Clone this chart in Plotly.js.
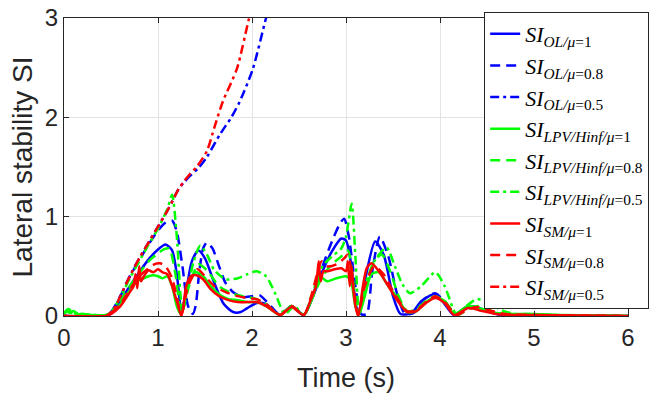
<!DOCTYPE html>
<html>
<head>
<meta charset="utf-8">
<script src="https://cdn.plot.ly/plotly-3.0.1.min.js"></script>
<style>html,body{margin:0;padding:0;background:#fff;}#chart{width:665px;height:405px;}</style>
</head>
<body>
<div id="chart"></div>
<script>
// ---- data ----
const xTicks = [0, 1, 2, 3, 4, 5, 6];
const yTicks = [0, 1, 2, 3];

const t_OL1 = [0,0.3,0.5,0.6,0.7,0.8,0.9,1.0,1.08,1.15,1.2,1.25,1.3,1.36,1.43,1.5,1.6,1.7,1.8,1.88,1.95,2.05,2.15,2.3,2.42,2.55,2.65,2.75,2.85,2.95,3.0,3.05,3.1,3.13,3.2,3.31,3.4,3.5,3.58,3.7,3.8,3.95,4.05,4.15,4.3,4.45,4.6,4.8,5.0,5.5,6.0];
const y_OL1 = [0,0,0.02,0.15,0.3,0.44,0.57,0.67,0.72,0.66,0.42,0.05,0.25,0.55,0.66,0.58,0.33,0.12,0.04,0.04,0.08,0.13,0.12,0.01,0.1,0.01,0.2,0.45,0.65,0.78,0.76,0.55,0.15,0.02,0.35,0.75,0.62,0.2,0.02,0.03,0.15,0.22,0.12,0.01,0.1,0.07,0.02,0.01,0.01,0,0];

const t_OL08 = [0,0.45,0.5,0.6,0.7,0.8,0.9,1.0,1.08,1.15,1.2,1.26,1.32,1.37,1.4,1.44,1.48,1.52,1.58,1.65,1.72,1.8,1.9,2.0,2.08,2.18,2.3,2.42,2.55,2.65,2.75,2.85,2.93,2.98,3.03,3.1,3.16,3.22,3.28,3.36,3.45,3.55,3.63,3.72,3.82,3.95,4.05,4.15,4.3,4.45,4.6,4.8,5.0,6.0];
const y_OL08 = [0,0,0.04,0.2,0.4,0.56,0.72,0.86,0.94,0.96,0.85,0.5,0.1,0.02,0.1,0.45,0.68,0.74,0.68,0.5,0.33,0.24,0.19,0.2,0.21,0.12,0.01,0.1,0.01,0.22,0.5,0.75,0.92,0.98,0.8,0.3,0.02,0.02,0.45,0.8,0.6,0.2,0.02,0.03,0.16,0.23,0.14,0.01,0.1,0.07,0.02,0.01,0.01,0];

const t_OL05 = [0,0.45,0.5,0.55,0.6,0.7,0.8,0.9,1.0,1.1,1.16,1.22,1.28,1.34,1.43,1.52,1.66,1.78,1.87,2.01,2.15,2.25];
const y_OL05 = [0,0,0.04,0.1,0.2,0.4,0.58,0.74,0.9,1.06,1.17,1.28,1.35,1.41,1.49,1.6,1.83,2.0,2.16,2.49,3.0,3.3];

const t_LPV1 = [0,0.03,0.06,0.1,0.15,0.2,0.3,0.45,0.5,0.6,0.7,0.78,0.85,0.9,0.95,1.0,1.05,1.1,1.15,1.2,1.24,1.28,1.33,1.4,1.48,1.56,1.65,1.75,1.85,1.95,2.05,2.15,2.3,2.42,2.55,2.65,2.72,2.8,2.9,3.0,3.05,3.1,3.14,3.2,3.27,3.35,3.45,3.55,3.65,3.75,3.85,3.95,4.05,4.15,4.3,4.45,4.6,4.8,5.0,5.3,6.0];
const y_LPV1 = [0.02,0.06,0.03,0.05,0.02,0.02,0.01,0.01,0.03,0.12,0.26,0.35,0.38,0.40,0.41,0.40,0.38,0.40,0.3,0.1,0.02,0.15,0.35,0.44,0.4,0.3,0.22,0.17,0.16,0.14,0.14,0.1,0.01,0.1,0.01,0.2,0.4,0.35,0.38,0.40,0.36,0.1,0.02,0.2,0.42,0.44,0.3,0.18,0.04,0.05,0.14,0.19,0.15,0.02,0.1,0.07,0.03,0.02,0.02,0.01,0];

const t_LPV08 = [0,0.05,0.1,0.2,0.45,0.5,0.6,0.7,0.8,0.9,1.0,1.06,1.12,1.18,1.25,1.33,1.43,1.52,1.65,1.78,1.9,2.05,2.15,2.3,2.42,2.55,2.65,2.75,2.85,2.95,3.02,3.07,3.13,3.2,3.3,3.38,3.47,3.56,3.65,3.75,3.85,3.95,4.05,4.18,4.3,4.4,4.55,4.7,5.0,6.0];
const y_LPV08 = [0.02,0.05,0.02,0.01,0.01,0.03,0.15,0.3,0.43,0.55,0.63,0.67,0.68,0.45,0.03,0.3,0.52,0.46,0.3,0.23,0.2,0.17,0.12,0.01,0.1,0.01,0.2,0.4,0.52,0.6,0.66,0.4,0.01,0.25,0.55,0.62,0.45,0.2,0.05,0.07,0.15,0.2,0.15,0.01,0.07,0.1,0.05,0.02,0.01,0];

const t_LPV05 = [0,0.05,0.1,0.2,0.45,0.5,0.6,0.7,0.8,0.9,1.0,1.1,1.15,1.2,1.26,1.32,1.38,1.45,1.52,1.6,1.72,1.85,1.95,2.05,2.15,2.25,2.35,2.45,2.55,2.65,2.75,2.85,2.95,3.0,3.06,3.1,3.14,3.2,3.3,3.43,3.52,3.6,3.68,3.8,3.95,4.05,4.18,4.28,4.39,4.5,4.65,4.8,4.95,5.2,6.0];
const y_LPV05 = [0.03,0.07,0.03,0.02,0.01,0.04,0.19,0.38,0.55,0.72,0.88,1.08,1.22,0.8,0.05,0.3,0.55,0.71,0.62,0.46,0.37,0.38,0.42,0.45,0.4,0.22,0.02,0.1,0.01,0.25,0.5,0.6,0.68,0.8,1.13,0.6,0.02,0.3,0.55,0.69,0.5,0.32,0.23,0.3,0.44,0.3,0.01,0.1,0.17,0.14,0.06,0.02,0.02,0.01,0];

const t_SM1 = [0,0.45,0.5,0.6,0.7,0.74,0.76,0.78,0.8,0.82,0.85,0.9,0.95,1.0,1.05,1.1,1.15,1.2,1.25,1.3,1.35,1.41,1.48,1.56,1.65,1.75,1.85,1.95,2.05,2.15,2.3,2.42,2.55,2.62,2.68,2.71,2.73,2.76,2.8,2.88,2.95,3.0,3.02,3.04,3.06,3.08,3.1,3.13,3.18,3.22,3.27,3.35,3.45,3.55,3.65,3.75,3.85,3.95,4.05,4.15,4.3,4.45,4.6,4.8,5.0,6.0];
const y_SM1 = [0,0,0.02,0.1,0.24,0.3,0.42,0.28,0.5,0.35,0.4,0.46,0.44,0.47,0.44,0.42,0.3,0.15,0.0,0.3,0.4,0.41,0.37,0.27,0.2,0.16,0.14,0.14,0.14,0.1,0.01,0.09,0.01,0.15,0.3,0.55,0.35,0.45,0.45,0.47,0.48,0.45,0.55,0.3,0.5,0.25,0.1,0.0,0.3,0.48,0.53,0.45,0.3,0.15,0.04,0.05,0.13,0.18,0.13,0.01,0.08,0.05,0.02,0.01,0.01,0.0];

const t_SM08 = [0,0.45,0.5,0.6,0.7,0.8,0.9,0.96,1.02,1.08,1.15,1.25,1.32,1.42,1.5,1.6,1.72,1.85,1.95,2.05,2.15,2.3,2.42,2.55,2.63,2.7,2.74,2.8,2.9,2.98,3.02,3.07,3.13,3.2,3.3,3.4,3.5,3.65,3.75,3.85,3.95,4.05,4.18,4.3,4.4,4.55,4.7,5.0,6.0];
const y_SM08 = [0,0,0.03,0.12,0.27,0.4,0.48,0.52,0.53,0.5,0.38,0.02,0.3,0.47,0.4,0.3,0.24,0.2,0.18,0.17,0.12,0.01,0.1,0.01,0.2,0.45,0.55,0.5,0.52,0.58,0.62,0.35,0.01,0.3,0.5,0.42,0.25,0.05,0.06,0.14,0.2,0.14,0.01,0.07,0.09,0.05,0.02,0.01,0];

const t_SM05 = [0,0.45,0.5,0.55,0.6,0.7,0.8,0.9,1.0,1.1,1.16,1.22,1.28,1.34,1.41,1.52,1.6,1.69,1.84,1.97,2.05];
const y_SM05 = [0,0,0.04,0.1,0.2,0.4,0.58,0.74,0.9,1.06,1.17,1.28,1.36,1.43,1.5,1.66,1.9,2.16,2.49,3.0,3.25];

const names = [
  '<i>SI</i><sub><i>OL/μ</i>=1</sub>',
  '<i>SI</i><sub><i>OL/μ</i>=0.8</sub>',
  '<i>SI</i><sub><i>OL/μ</i>=0.5</sub>',
  '<i>SI</i><sub><i>LPV/Hinf/μ</i>=1</sub>',
  '<i>SI</i><sub><i>LPV/Hinf/μ</i>=0.8</sub>',
  '<i>SI</i><sub><i>LPV/Hinf/μ</i>=0.5</sub>',
  '<i>SI</i><sub><i>SM/μ</i>=1</sub>',
  '<i>SI</i><sub><i>SM/μ</i>=0.8</sub>',
  '<i>SI</i><sub><i>SM/μ</i>=0.5</sub>'
];

// ---- styling ----
const BLUE = '#0000ff', GREEN = '#00ff00', RED = '#ff0000';
const DASH = '10px,6px', DASHDOT = '9px,4px,3px,4px';
const LW = 2.5;

function tr(x, y, name, color, dash) {
  return {
    x: x, y: y, name: name, type: 'scatter', mode: 'lines',
    line: {color: color, width: LW, dash: dash, shape: 'spline', smoothing: 0.7},
    cliponaxis: true
  };
}

const data = [
  tr(t_OL1, y_OL1, names[0], BLUE, 'solid'),
  tr(t_OL08, y_OL08, names[1], BLUE, DASH),
  tr(t_OL05, y_OL05, names[2], BLUE, DASHDOT),
  tr(t_LPV1, y_LPV1, names[3], GREEN, 'solid'),
  tr(t_LPV08, y_LPV08, names[4], GREEN, DASH),
  tr(t_LPV05, y_LPV05, names[5], GREEN, DASHDOT),
  tr(t_SM1, y_SM1, names[6], RED, 'solid'),
  tr(t_SM08, y_SM08, names[7], RED, DASH),
  tr(t_SM05, y_SM05, names[8], RED, DASHDOT)
];

const AX = '#262626';
const layout = {
  width: 665, height: 405,
  margin: {l: 64, r: 37, t: 16, b: 89, pad: 0},
  paper_bgcolor: '#ffffff', plot_bgcolor: '#ffffff',
  font: {family: 'Liberation Sans, Arial, sans-serif', color: AX},
  showlegend: true,
  xaxis: {
    range: [0, 6], tickvals: xTicks, ticktext: xTicks.map(String),
    ticks: 'inside', ticklen: 5, tickcolor: AX, showline: true, linecolor: AX, linewidth: 1,
    mirror: 'ticks', showgrid: true, gridcolor: '#e3e3e3', zeroline: false,
    tickfont: {size: 24, color: AX},
    title: {text: 'Time (s)', font: {size: 27, color: AX}, standoff: 18}
  },
  yaxis: {
    range: [0, 3], tickvals: yTicks, ticktext: yTicks.map(String),
    ticks: 'inside', ticklen: 5, tickcolor: AX, showline: true, linecolor: AX, linewidth: 1,
    mirror: 'ticks', showgrid: true, gridcolor: '#e3e3e3', zeroline: false,
    tickfont: {size: 24, color: AX},
    title: {text: 'Lateral stability SI', font: {size: 28, color: AX}, standoff: 4}
  },
  legend: {
    x: 0.745, xanchor: 'left', y: 1.02, yanchor: 'top',
    bgcolor: '#ffffff', bordercolor: AX, borderwidth: 1,
    font: {family: 'Liberation Serif, DejaVu Serif, serif', size: 22, color: '#000000'},
    itemwidth: 30, tracegroupgap: 0, maxheight: 400
  }
};

Plotly.newPlot('chart', data, layout, {staticPlot: true, displayModeBar: false});
</script>
</body>
</html>
